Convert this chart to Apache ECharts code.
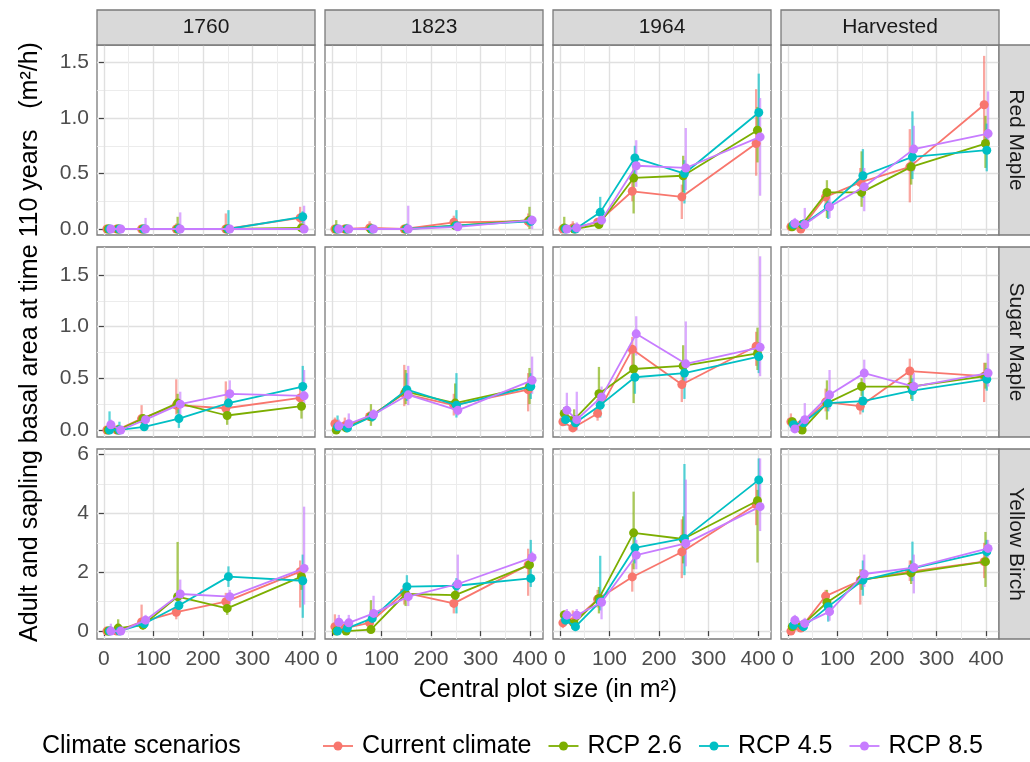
<!DOCTYPE html>
<html>
<head>
<meta charset="utf-8">
<script src="https://cdn.jsdelivr.net/npm/echarts@6/dist/echarts.min.js"></script>
<style>
  html, body { margin: 0; padding: 0; background: #ffffff; }
  #chart { width: 1030px; height: 762px; }
</style>
</head>
<body>
<div id="chart"></div>
<script>
// ---- data -------------------------------------------------------------
const plotSizes = [10, 30, 80, 150, 250, 400];
const periods = ['1760', '1823', '1964', 'Harvested'];
const species = ['Red Maple', 'Sugar Maple', 'Yellow Birch'];
const scenarios = ['Current climate', 'RCP 2.6', 'RCP 4.5', 'RCP 8.5'];

// tick values per facet row (y) and shared x
const xMajorTicks = [0, 100, 200, 300, 400];
const xMinorTicks = [50, 150, 250, 350];
const yMajorTicks = [[0, 0.5, 1, 1.5], [0, 0.5, 1, 1.5], [0, 2, 4, 6]];
const yMinorTicks = [[0.25, 0.75, 1.25], [0.25, 0.75, 1.25], [1, 3, 5]];

// each array: rows = scenarios (Current, RCP 2.6, RCP 4.5, RCP 8.5), cols = plotSizes
// Red Maple
const redMaple1760Mean = [
  [0.00, 0.00, 0.00, 0.00, 0.00, 0.10],
  [0.00, 0.00, 0.00, 0.00, 0.00, 0.01],
  [0.00, 0.00, 0.00, 0.00, 0.00, 0.11],
  [0.00, 0.00, 0.00, 0.00, 0.00, 0.00]];
const redMaple1760Low = [
  [0, 0, 0, 0, 0, 0.02], [0, 0, 0, 0, 0, 0], [0, 0, 0, 0, 0, 0.05], [0, 0, 0, 0, 0, 0]];
const redMaple1760High = [
  [0.02, 0.02, 0.03, 0.05, 0.14, 0.20],
  [0.02, 0.02, 0.03, 0.11, 0.03, 0.05],
  [0.02, 0.02, 0.03, 0.05, 0.17, 0.16],
  [0.02, 0.02, 0.10, 0.15, 0.03, 0.21]];

const redMaple1823Mean = [
  [0.00, 0.00, 0.01, 0.00, 0.06, 0.07],
  [0.00, 0.00, 0.00, 0.00, 0.03, 0.08],
  [0.00, 0.00, 0.00, 0.00, 0.03, 0.07],
  [0.00, 0.00, 0.00, 0.00, 0.02, 0.08]];
const redMaple1823Low = [
  [0, 0, 0, 0, 0.02, 0.02], [0, 0, 0, 0, 0, 0], [0, 0, 0, 0, 0, 0.03], [0, 0, 0, 0, 0, 0]];
const redMaple1823High = [
  [0.03, 0.02, 0.07, 0.03, 0.12, 0.14],
  [0.08, 0.03, 0.05, 0.04, 0.08, 0.20],
  [0.03, 0.02, 0.03, 0.05, 0.17, 0.12],
  [0.03, 0.03, 0.03, 0.21, 0.06, 0.12]];

const redMaple1964Mean = [
  [0.00, 0.01, 0.06, 0.34, 0.29, 0.77],
  [0.01, 0.00, 0.04, 0.46, 0.48, 0.89],
  [0.00, 0.00, 0.15, 0.64, 0.50, 1.05],
  [0.00, 0.01, 0.08, 0.57, 0.55, 0.83]];
const redMaple1964Low = [
  [0.00, 0.00, 0.03, 0.25, 0.09, 0.48],
  [0.00, 0.00, 0.01, 0.14, 0.33, 0.60],
  [0.00, 0.00, 0.08, 0.48, 0.23, 0.78],
  [0.00, 0.00, 0.04, 0.38, 0.35, 0.30]];
const redMaple1964High = [
  [0.03, 0.07, 0.10, 0.45, 0.40, 1.26],
  [0.11, 0.05, 0.08, 0.60, 0.66, 1.10],
  [0.04, 0.04, 0.29, 0.75, 0.62, 1.40],
  [0.03, 0.06, 0.12, 0.80, 0.91, 1.18]];

const redMapleHarvMean = [
  [0.02, 0.00, 0.29, 0.42, 0.56, 1.12],
  [0.02, 0.04, 0.33, 0.33, 0.56, 0.77],
  [0.04, 0.04, 0.20, 0.48, 0.65, 0.71],
  [0.05, 0.04, 0.20, 0.38, 0.72, 0.86]];
const redMapleHarvLow = [
  [0.00, 0.00, 0.18, 0.30, 0.24, 0.75],
  [0.00, 0.00, 0.10, 0.20, 0.40, 0.55],
  [0.00, 0.00, 0.09, 0.28, 0.45, 0.52],
  [0.00, 0.00, 0.10, 0.16, 0.52, 0.70]];
const redMapleHarvHigh = [
  [0.06, 0.05, 0.36, 0.55, 0.90, 1.56],
  [0.06, 0.08, 0.44, 0.70, 0.70, 1.02],
  [0.08, 0.09, 0.28, 0.72, 1.06, 0.95],
  [0.10, 0.19, 0.30, 0.55, 0.93, 1.24]];

// Sugar Maple
const sugarMaple1760Mean = [
  [0.00, 0.00, 0.11, 0.24, 0.21, 0.31],
  [0.00, 0.00, 0.11, 0.26, 0.14, 0.23],
  [0.00, 0.00, 0.03, 0.11, 0.26, 0.42],
  [0.05, 0.00, 0.10, 0.25, 0.35, 0.33]];
const sugarMaple1760Low = [
  [0.00, 0.00, 0.06, 0.15, 0.14, 0.22],
  [0.00, 0.00, 0.06, 0.16, 0.05, 0.11],
  [0.00, 0.00, 0.00, 0.02, 0.17, 0.30],
  [0.00, 0.00, 0.05, 0.15, 0.28, 0.22]];
const sugarMaple1760High = [
  [0.03, 0.02, 0.24, 0.49, 0.47, 0.45],
  [0.04, 0.05, 0.15, 0.35, 0.22, 0.30],
  [0.18, 0.08, 0.05, 0.20, 0.35, 0.62],
  [0.10, 0.03, 0.14, 0.37, 0.48, 0.58]];

const sugarMaple1823Mean = [
  [0.06, 0.04, 0.13, 0.35, 0.24, 0.39],
  [0.00, 0.02, 0.13, 0.37, 0.26, 0.42],
  [0.03, 0.02, 0.13, 0.39, 0.24, 0.42],
  [0.04, 0.06, 0.15, 0.34, 0.19, 0.48]];
const sugarMaple1823Low = [
  [0.00, 0.00, 0.09, 0.23, 0.14, 0.18],
  [0.00, 0.00, 0.04, 0.25, 0.18, 0.25],
  [0.00, 0.00, 0.08, 0.28, 0.12, 0.30],
  [0.00, 0.00, 0.10, 0.24, 0.14, 0.35]];
const sugarMaple1823High = [
  [0.12, 0.12, 0.18, 0.63, 0.35, 0.55],
  [0.08, 0.05, 0.25, 0.58, 0.45, 0.60],
  [0.14, 0.08, 0.18, 0.55, 0.55, 0.55],
  [0.10, 0.16, 0.20, 0.62, 0.25, 0.71]];

const sugarMaple1964Mean = [
  [0.08, 0.02, 0.16, 0.78, 0.44, 0.81],
  [0.16, 0.10, 0.35, 0.59, 0.62, 0.74],
  [0.10, 0.07, 0.24, 0.51, 0.55, 0.71],
  [0.19, 0.10, 0.32, 0.93, 0.64, 0.80]];
const sugarMaple1964Low = [
  [0.04, 0.00, 0.09, 0.55, 0.27, 0.62],
  [0.10, 0.00, 0.20, 0.26, 0.45, 0.58],
  [0.04, 0.00, 0.12, 0.35, 0.30, 0.55],
  [0.10, 0.00, 0.20, 0.72, 0.45, 0.52]];
const sugarMaple1964High = [
  [0.14, 0.10, 0.30, 0.90, 0.55, 0.95],
  [0.22, 0.20, 0.61, 0.75, 0.82, 0.99],
  [0.14, 0.14, 0.35, 0.62, 0.65, 0.85],
  [0.36, 0.37, 0.42, 1.10, 1.05, 1.68]];

const sugarMapleHarvMean = [
  [0.08, 0.05, 0.27, 0.23, 0.57, 0.52],
  [0.08, 0.00, 0.26, 0.42, 0.42, 0.52],
  [0.05, 0.07, 0.26, 0.28, 0.38, 0.49],
  [0.01, 0.10, 0.34, 0.55, 0.42, 0.55]];
const sugarMapleHarvLow = [
  [0.02, 0.00, 0.18, 0.15, 0.45, 0.27],
  [0.02, 0.00, 0.10, 0.33, 0.30, 0.40],
  [0.00, 0.02, 0.18, 0.17, 0.28, 0.38],
  [0.00, 0.02, 0.20, 0.42, 0.35, 0.42]];
const sugarMapleHarvHigh = [
  [0.16, 0.10, 0.40, 0.32, 0.69, 0.65],
  [0.12, 0.05, 0.48, 0.50, 0.55, 0.65],
  [0.10, 0.12, 0.35, 0.40, 0.50, 0.60],
  [0.05, 0.26, 0.58, 0.68, 0.55, 0.74]];

// Yellow Birch
const yellowBirch1760Mean = [
  [0.00, 0.00, 0.31, 0.64, 1.00, 2.02],
  [0.00, 0.10, 0.20, 1.17, 0.77, 1.85],
  [0.00, 0.00, 0.25, 0.87, 1.85, 1.71],
  [0.00, 0.00, 0.37, 1.26, 1.17, 2.13]];
const yellowBirch1760Low = [
  [0.00, 0.00, 0.10, 0.40, 0.70, 0.80],
  [0.00, 0.00, 0.05, 0.70, 0.55, 1.40],
  [0.00, 0.00, 0.10, 0.55, 1.50, 0.45],
  [0.00, 0.00, 0.20, 0.90, 0.90, 0.90]];
const yellowBirch1760High = [
  [0.10, 0.08, 0.90, 0.90, 1.30, 2.40],
  [0.05, 0.40, 0.40, 3.03, 1.00, 2.20],
  [0.08, 0.15, 0.40, 1.10, 2.20, 2.60],
  [0.25, 0.10, 0.55, 1.75, 1.40, 4.23]];

const yellowBirch1823Mean = [
  [0.15, 0.10, 0.28, 1.31, 0.94, 2.25],
  [0.00, 0.00, 0.05, 1.26, 1.22, 2.25],
  [0.00, 0.10, 0.43, 1.51, 1.54, 1.79],
  [0.30, 0.28, 0.60, 1.17, 1.60, 2.50]];
const yellowBirch1823Low = [
  [0.00, 0.00, 0.10, 0.90, 0.60, 1.20],
  [0.00, 0.00, 0.00, 0.85, 0.95, 1.90],
  [0.00, 0.00, 0.30, 1.10, 0.60, 1.50],
  [0.00, 0.05, 0.40, 0.85, 1.20, 2.30]];
const yellowBirch1823High = [
  [0.57, 0.30, 0.45, 1.60, 1.30, 2.80],
  [0.10, 0.10, 1.05, 1.50, 1.50, 2.60],
  [0.15, 0.30, 0.60, 1.90, 1.80, 3.10],
  [0.55, 0.55, 1.20, 1.40, 2.60, 2.70]];

const yellowBirch1964Mean = [
  [0.28, 0.31, 1.08, 1.84, 2.69, 4.30],
  [0.55, 0.26, 1.11, 3.34, 3.13, 4.43],
  [0.37, 0.15, 1.00, 2.83, 3.15, 5.14],
  [0.54, 0.54, 0.98, 2.58, 2.98, 4.23]];
const yellowBirch1964Low = [
  [0.10, 0.10, 0.80, 1.34, 1.80, 3.60],
  [0.30, 0.10, 0.60, 2.10, 2.30, 2.33],
  [0.20, 0.00, 0.70, 2.30, 1.90, 4.30],
  [0.30, 0.30, 0.40, 2.10, 2.20, 3.40]];
const yellowBirch1964High = [
  [0.60, 0.70, 1.40, 2.30, 3.80, 5.00],
  [0.70, 0.60, 1.50, 4.74, 3.90, 4.80],
  [0.55, 0.40, 2.56, 3.30, 5.68, 5.87],
  [0.75, 0.75, 1.30, 3.10, 5.15, 5.87]];

const yellowBirchHarvMean = [
  [0.00, 0.10, 1.19, 1.72, 2.02, 2.36],
  [0.15, 0.20, 0.97, 1.75, 1.98, 2.36],
  [0.20, 0.15, 0.83, 1.73, 2.13, 2.70],
  [0.37, 0.26, 0.66, 1.94, 2.16, 2.81]];
const yellowBirchHarvLow = [
  [0.00, 0.00, 0.95, 0.90, 1.70, 1.80],
  [0.00, 0.05, 0.70, 1.40, 1.60, 1.50],
  [0.00, 0.00, 0.32, 1.20, 1.70, 2.30],
  [0.10, 0.10, 0.35, 1.50, 1.28, 2.50]];
const yellowBirchHarvHigh = [
  [0.20, 0.30, 1.40, 2.10, 2.40, 3.00],
  [0.35, 0.35, 1.40, 2.10, 2.40, 3.37],
  [0.40, 0.30, 1.10, 2.40, 3.04, 3.10],
  [0.55, 0.45, 0.90, 2.60, 2.60, 3.10]];

// facet lookup: [row][col] -> {mean, low, high}
const facetData = [
  [
    { mean: redMaple1760Mean, low: redMaple1760Low, high: redMaple1760High },
    { mean: redMaple1823Mean, low: redMaple1823Low, high: redMaple1823High },
    { mean: redMaple1964Mean, low: redMaple1964Low, high: redMaple1964High },
    { mean: redMapleHarvMean, low: redMapleHarvLow, high: redMapleHarvHigh }
  ],
  [
    { mean: sugarMaple1760Mean, low: sugarMaple1760Low, high: sugarMaple1760High },
    { mean: sugarMaple1823Mean, low: sugarMaple1823Low, high: sugarMaple1823High },
    { mean: sugarMaple1964Mean, low: sugarMaple1964Low, high: sugarMaple1964High },
    { mean: sugarMapleHarvMean, low: sugarMapleHarvLow, high: sugarMapleHarvHigh }
  ],
  [
    { mean: yellowBirch1760Mean, low: yellowBirch1760Low, high: yellowBirch1760High },
    { mean: yellowBirch1823Mean, low: yellowBirch1823Low, high: yellowBirch1823High },
    { mean: yellowBirch1964Mean, low: yellowBirch1964Low, high: yellowBirch1964High },
    { mean: yellowBirchHarvMean, low: yellowBirchHarvLow, high: yellowBirchHarvHigh }
  ]
];

// ---- layout & style ---------------------------------------------------
const FONT = "'Liberation Sans', Arial, Helvetica, sans-serif";
const COLORS = ['#F8766D', '#7CAE00', '#00BFC4', '#C77CFF'];
const DODGE = [-4, -1.3, 1.3, 4];          // horizontal dodge in x units
const PANEL_LEFT = 97, PANEL_W = 218, COL_STEP = 228;
const ROW_TOPS = [45, 247, 449], PANEL_H = 190;
const X_RANGE = [-14, 426];
const Y_RANGES = [[-0.054, 1.658], [-0.068, 1.77], [-0.27, 6.19]];
const BORDER = '#7a7a7a';
const GRID_MAJOR = { color: '#e0e0e0', width: 1.4 };
const GRID_MINOR = { color: '#ececec', width: 1 };
const SMALL_FONT = 21, TITLE_FONT = 25;
const TICK_TEXT = { color: '#4d4d4d', fontSize: SMALL_FONT, fontFamily: FONT };

const grids = [], xAxes = [], yAxes = [], series = [];

species.forEach((sp, r) => {
  periods.forEach((pd, c) => {
    const p = r * periods.length + c;
    grids.push({
      left: PANEL_LEFT + c * COL_STEP, top: ROW_TOPS[r],
      width: PANEL_W, height: PANEL_H,
      show: true, backgroundColor: '#ffffff',
      borderColor: BORDER, borderWidth: 1.3
    });
    const bottomRow = r === species.length - 1;
    const leftCol = c === 0;
    // major x axis
    xAxes.push({
      type: 'value', gridIndex: p, min: X_RANGE[0], max: X_RANGE[1],
      axisLine: { show: false },
      axisTick: { show: bottomRow, customValues: xMajorTicks, length: 5, lineStyle: { color: '#444', width: 1.2 } },
      axisLabel: { show: bottomRow, customValues: xMajorTicks, margin: 10, ...TICK_TEXT },
      splitLine: { show: true, lineStyle: GRID_MAJOR }
    });
    // minor x gridlines
    xAxes.push({
      type: 'value', gridIndex: p, min: X_RANGE[0], max: X_RANGE[1], position: 'bottom',
      axisLine: { show: false },
      axisTick: { show: false, customValues: xMinorTicks },
      axisLabel: { show: false, customValues: xMinorTicks },
      splitLine: { show: true, lineStyle: GRID_MINOR }
    });
    // major y axis
    yAxes.push({
      type: 'value', gridIndex: p, min: Y_RANGES[r][0], max: Y_RANGES[r][1],
      axisLine: { show: false },
      axisTick: { show: leftCol, customValues: yMajorTicks[r], length: 5, lineStyle: { color: '#444', width: 1.2 } },
      axisLabel: {
        show: leftCol, customValues: yMajorTicks[r], margin: 8, ...TICK_TEXT,
        formatter: v => (r < 2 ? v.toFixed(1) : String(Math.round(v)))
      },
      splitLine: { show: true, lineStyle: GRID_MAJOR }
    });
    // minor y gridlines
    yAxes.push({
      type: 'value', gridIndex: p, min: Y_RANGES[r][0], max: Y_RANGES[r][1], position: 'left',
      axisLine: { show: false },
      axisTick: { show: false, customValues: yMinorTicks[r] },
      axisLabel: { show: false, customValues: yMinorTicks[r] },
      splitLine: { show: true, lineStyle: GRID_MINOR }
    });

    const fd = facetData[r][c];
    scenarios.forEach((sc, s) => {
      const xs = plotSizes.map(x => x + DODGE[s]);
      // error bars (low..high)
      series.push({
        type: 'custom', name: sc,
        xAxisIndex: 2 * p, yAxisIndex: 2 * p,
        z: 2 + s,
        itemStyle: { color: COLORS[s] },
        data: xs.map((x, i) => [x, fd.low[s][i], fd.high[s][i]]),
        encode: { x: 0, y: [1, 2] },
        renderItem: (params, api) => {
          const a = api.coord([api.value(0), api.value(1)]);
          const b = api.coord([api.value(0), api.value(2)]);
          return {
            type: 'line',
            shape: { x1: a[0], y1: a[1], x2: b[0], y2: b[1] },
            style: { stroke: COLORS[s], lineWidth: 2.3, opacity: 0.65 }
          };
        },
        silent: true, animation: false
      });
      // mean line with points
      series.push({
        type: 'line', name: sc,
        xAxisIndex: 2 * p, yAxisIndex: 2 * p,
        z: 6 + s,
        data: xs.map((x, i) => [x, fd.mean[s][i]]),
        symbol: 'circle', symbolSize: 9, showSymbol: true,
        itemStyle: { color: COLORS[s] },
        lineStyle: { color: COLORS[s], width: 1.8 },
        silent: true, animation: false
      });
    });
  });
});

// ---- strips, titles, legend -------------------------------------------
const graphics = [];
periods.forEach((pd, c) => {
  const x = PANEL_LEFT + c * COL_STEP;
  graphics.push({
    type: 'rect', shape: { x: x, y: 10, width: PANEL_W, height: 35 },
    style: { fill: '#d9d9d9', stroke: BORDER, lineWidth: 1.3 }, z: 10
  });
  graphics.push({
    type: 'text', x: x + PANEL_W / 2, y: 27.5, z: 11,
    style: { text: pd, fontSize: SMALL_FONT, fontFamily: FONT, fill: '#1a1a1a', align: 'center', verticalAlign: 'middle' }
  });
});
species.forEach((sp, r) => {
  const y = ROW_TOPS[r];
  const x = PANEL_LEFT + 3 * COL_STEP + PANEL_W;
  graphics.push({
    type: 'rect', shape: { x: x, y: y, width: 40, height: PANEL_H },
    style: { fill: '#d9d9d9', stroke: BORDER, lineWidth: 1.3 }, z: 10
  });
  graphics.push({
    type: 'text', x: x + 17, y: y + PANEL_H / 2, rotation: -Math.PI / 2, z: 11,
    style: { text: sp, fontSize: SMALL_FONT, fontFamily: FONT, fill: '#1a1a1a', align: 'center', verticalAlign: 'middle' }
  });
});
graphics.push({
  type: 'text', x: 30, y: 342, rotation: Math.PI / 2, z: 11,
  style: {
    text: 'Adult and sapling basal area at time 110 years   (m²/h)',
    fontSize: TITLE_FONT, fontFamily: FONT, fill: '#000000', align: 'center', verticalAlign: 'middle'
  }
});
graphics.push({
  type: 'text', x: 548, y: 690, z: 11,
  style: {
    text: 'Central plot size (in m²)', fontSize: TITLE_FONT, fontFamily: FONT,
    fill: '#000000', align: 'center', verticalAlign: 'middle'
  }
});

// legend: title + key (line with point) + label for each scenario
const LEGEND_Y = 746;
graphics.push({
  type: 'text', x: 42, y: LEGEND_Y, z: 11,
  style: { text: 'Climate scenarios', fontSize: TITLE_FONT, fontFamily: FONT, fill: '#000000', align: 'left', verticalAlign: 'middle' }
});
const measureCtx = document.createElement('canvas').getContext('2d');
measureCtx.font = TITLE_FONT + 'px ' + FONT;
let lx = 322;
scenarios.forEach((sc, s) => {
  graphics.push({
    type: 'line', z: 11,
    shape: { x1: lx + 1, y1: LEGEND_Y, x2: lx + 31, y2: LEGEND_Y },
    style: { stroke: COLORS[s], lineWidth: 1.8 }
  });
  graphics.push({
    type: 'circle', z: 12,
    shape: { cx: lx + 16, cy: LEGEND_Y, r: 4.5 },
    style: { fill: COLORS[s] }
  });
  graphics.push({
    type: 'text', x: lx + 40, y: LEGEND_Y, z: 11,
    style: { text: sc, fontSize: TITLE_FONT, fontFamily: FONT, fill: '#000000', align: 'left', verticalAlign: 'middle' }
  });
  lx += 40 + measureCtx.measureText(sc).width + 16;
});

const chart = echarts.init(document.getElementById('chart'), null, { renderer: 'canvas' });
chart.setOption({
  backgroundColor: '#ffffff',
  animation: false,
  textStyle: { fontFamily: FONT },
  grid: grids,
  xAxis: xAxes,
  yAxis: yAxes,
  graphic: graphics,
  series: series
});
</script>
</body>
</html>
